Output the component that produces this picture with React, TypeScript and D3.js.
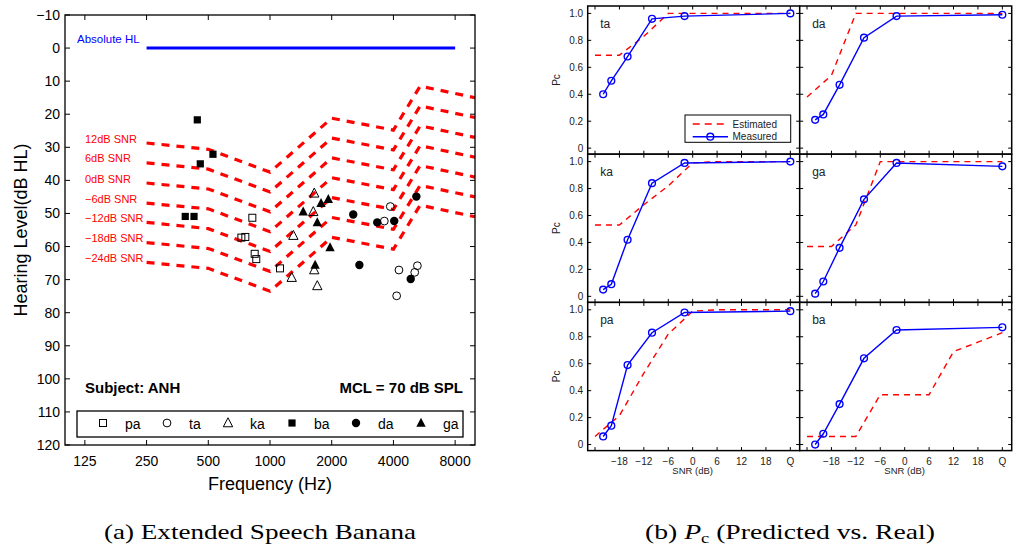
import React from 'react';
import * as d3 from 'd3';

// ---------------- Left chart data ----------------
const freqTicks = [125, 250, 500, 1000, 2000, 4000, 8000];
const hlTicks = [-10, 0, 10, 20, 30, 40, 50, 60, 70, 80, 90, 100, 110, 120];
const absFreq = [250, 8000];
const absHL = [0, 0];

const bananaFreq = [250, 500, 1000, 2000, 4000, 5400, 10000];
const snrLabels = ['12dB SNR', '6dB SNR', '0dB SNR', '\u22126dB SNR', '\u221212dB SNR', '\u221218dB SNR', '\u221224dB SNR'];
const bananaSNR12 = [28.7, 30.6, 37.5, 21.2, 24.8, 11.5, 15.0];
const bananaSNR6 = [34.7, 36.6, 43.5, 27.2, 30.8, 17.5, 21.0];
const bananaSNR0 = [40.8, 42.6, 49.5, 33.2, 36.8, 23.5, 27.0];
const bananaSNRm6 = [46.9, 48.6, 55.5, 39.2, 42.8, 29.5, 33.0];
const bananaSNRm12 = [52.7, 54.6, 61.5, 45.2, 48.8, 35.5, 39.0];
const bananaSNRm18 = [58.8, 60.6, 67.5, 51.2, 54.8, 41.5, 45.0];
const bananaSNRm24 = [64.8, 66.6, 73.5, 57.2, 60.8, 47.5, 51.0];
const bananaCurves = [bananaSNR12, bananaSNR6, bananaSNR0, bananaSNRm6, bananaSNRm12, bananaSNRm18, bananaSNRm24];

const syllables = ['pa', 'ta', 'ka', 'ba', 'da', 'ga'];
const paFreq = [820, 725, 758, 842, 857, 1119];
const paHL = [51.3, 57.3, 57.1, 62.2, 63.8, 66.6];
const taFreq = [3861, 3611, 4256, 4148, 5083, 5236];
const taHL = [47.9, 52.3, 67.1, 74.9, 67.8, 65.8];
const kaFreq = [1644, 1626, 1300, 1276, 1644, 1701];
const kaHL = [43.9, 49.5, 56.7, 69.4, 67.1, 71.9];
const baFreq = [442, 527, 457, 386, 426];
const baHL = [21.7, 32.1, 35.0, 50.9, 50.9];
const daFreq = [2547, 2729, 3335, 4036, 5176, 4857];
const daHL = [50.3, 65.6, 52.7, 52.3, 44.9, 69.8];
const gaFreq = [1452, 1774, 1925, 1701, 1963, 1660];
const gaHL = [49.5, 46.9, 45.7, 52.7, 60.3, 65.6];

// ---------------- Right chart data ----------------
const snrTicks = [-24, -18, -12, -6, 0, 6, 12, 18, 24];
const snrTickLabels = ['', '\u221218', '\u221212', '\u22126', '0', '6', '12', '18', 'Q'];
const pcTicks = [0, 0.2, 0.4, 0.6, 0.8, 1.0];
const pcTickLabels = ['0', '0.2', '0.4', '0.6', '0.8', '1.0'];
const measuredSNR = [-22, -20, -16, -10, -2, 24];
const estimatedSNR = [-24, -18, -12, -6, 0, 6, 12, 18, 24];
const panelNames = ['ta', 'da', 'ka', 'ga', 'pa', 'ba'];
const measTa = [0.40, 0.50, 0.68, 0.96, 0.98, 1.0];
const measDa = [0.21, 0.25, 0.47, 0.82, 0.98, 0.99];
const measKa = [0.05, 0.09, 0.42, 0.84, 0.99, 1.0];
const measGa = [0.02, 0.11, 0.36, 0.72, 0.99, 0.965];
const measPa = [0.06, 0.14, 0.59, 0.83, 0.98, 0.99];
const measBa = [0.0, 0.08, 0.30, 0.64, 0.85, 0.87];
const estTa = [0.69, 0.69, 0.83, 1.0, 1.0, 1.0, 1.0, 1.0, 1.0];
const estDa = [0.38, 0.54, 1.0, 1.0, 1.0, 1.0, 1.0, 1.0, 1.0];
const estKa = [0.53, 0.53, 0.68, 0.82, 0.99, 1.0, 1.0, 1.0, 1.0];
const estGa = [0.37, 0.37, 0.53, 1.0, 1.0, 1.0, 1.0, 1.0, 1.0];
const estPa = [0.06, 0.215, 0.53, 0.82, 0.99, 1.0, 1.0, 1.0, 1.0];
const estBa = [0.06, 0.06, 0.06, 0.37, 0.37, 0.37, 0.69, 0.76, 0.83];
const measuredSeries = [measTa, measDa, measKa, measGa, measPa, measBa];
const estimatedSeries = [estTa, estDa, estKa, estGa, estPa, estBa];

const SANS = 'Liberation Sans, Arial, Helvetica, sans-serif';
const SERIF = 'Liberation Serif, DejaVu Serif, serif';

function triPath(cx: number, cy: number, s: number) {
  return `M${cx},${cy - s * 0.58}L${cx + s * 0.52},${cy + s * 0.42}L${cx - s * 0.52},${cy + s * 0.42}Z`;
}

function Marker({ kind, x, y }: { kind: string; x: number; y: number }) {
  switch (kind) {
    case 'pa':
      return <rect x={x - 3.5} y={y - 3.5} width={7} height={7} fill="none" stroke="#000" strokeWidth={1} />;
    case 'ba':
      return <rect x={x - 3.6} y={y - 3.6} width={7.2} height={7.2} fill="#000" />;
    case 'ta':
      return <circle cx={x} cy={y} r={3.9} fill="none" stroke="#000" strokeWidth={1} />;
    case 'da':
      return <circle cx={x} cy={y} r={4.2} fill="#000" />;
    case 'ka':
      return <path d={triPath(x, y, 9)} fill="none" stroke="#000" strokeWidth={1} />;
    default:
      return <path d={triPath(x, y, 9)} fill="#000" />;
  }
}

function LeftChart() {
  const x = d3.scaleLog().domain([100, 10000]).range([65, 475]);
  const y = d3.scaleLinear().domain([-10, 120]).range([15, 445]);
  const [x0, x1] = x.range();
  const [y0, y1] = y.range();
  const line = d3.line<[number, number]>().x((d) => x(d[0])).y((d) => y(d[1]));
  const pts: Record<string, [number[], number[]]> = {
    pa: [paFreq, paHL], ta: [taFreq, taHL], ka: [kaFreq, kaHL],
    ba: [baFreq, baHL], da: [daFreq, daHL], ga: [gaFreq, gaHL],
  };
  const legendX = [103, 167, 228, 292, 356, 421];
  return (
    <g fontFamily={SANS}>
      {bananaCurves.map((c, i) => (
        <path key={i} d={line(bananaFreq.map((f, j) => [f, c[j]] as [number, number])) || ''}
          fill="none" stroke="#ff0000" strokeWidth={3.2} strokeDasharray="8 7" />
      ))}
      {bananaCurves.map((c, i) => (
        <text key={'l' + i} x={85} y={y(c[0]) - 0.5} fontSize={11} fill="#ff0000">{snrLabels[i]}</text>
      ))}
      <path d={line(absFreq.map((f, j) => [f, absHL[j]] as [number, number])) || ''} stroke="#0000ff" strokeWidth={3} fill="none" />
      <text x={77} y={43} fontSize={11.5} fill="#0000ff">Absolute HL</text>
      {syllables.map((s) => pts[s][0].map((f, j) => (
        <Marker key={s + j} kind={s} x={x(f)} y={y(pts[s][1][j])} />
      )))}
      <rect x={x0} y={y0} width={x1 - x0} height={y1 - y0} fill="none" stroke="#000" strokeWidth={1.3} />
      {freqTicks.map((f) => (
        <g key={f}>
          <line x1={x(f)} x2={x(f)} y1={y1} y2={y1 - 5} stroke="#000" />
          <line x1={x(f)} x2={x(f)} y1={y0} y2={y0 + 5} stroke="#000" />
          <text x={x(f)} y={466} fontSize={14} textAnchor="middle">{f}</text>
        </g>
      ))}
      {hlTicks.map((t) => (
        <g key={t}>
          <line x1={x0} x2={x0 + 5} y1={y(t)} y2={y(t)} stroke="#000" />
          <line x1={x1} x2={x1 - 5} y1={y(t)} y2={y(t)} stroke="#000" />
          <text x={60} y={y(t) + 5} fontSize={14} textAnchor="end">{t < 0 ? '\u2212' + Math.abs(t) : t}</text>
        </g>
      ))}
      <text x={270} y={490} fontSize={18} textAnchor="middle">Frequency (Hz)</text>
      <text transform={`translate(27,230) rotate(-90)`} fontSize={18} textAnchor="middle">Hearing Level(dB HL)</text>
      <text x={85} y={393} fontSize={15} fontWeight="bold">Subject: ANH</text>
      <text x={463} y={393} fontSize={15} fontWeight="bold" textAnchor="end">MCL = 70 dB SPL</text>
      <rect x={77} y={411} width={386} height={26} fill="#fff" stroke="#000" strokeWidth={1.3} />
      {syllables.map((s, i) => (
        <g key={'lg' + s}>
          <Marker kind={s} x={legendX[i]} y={423} />
          <text x={legendX[i] + 22} y={429} fontSize={14}>{s}</text>
        </g>
      ))}
    </g>
  );
}

function PcPanel({ idx }: { idx: number }) {
  const col = idx % 2;
  const row = Math.floor(idx / 2);
  const left = 587.7 + col * 212;
  const top = 6 + row * 148.2;
  const x = d3.scaleLinear().domain([-25.8, 26.3]).range([left, left + 212]);
  const y = d3.scaleLinear().domain([-0.045, 1.055]).range([top + 148.2, top]);
  const lineMeas = d3.line<number>().x((_, i) => x(measuredSNR[i])).y((d) => y(d));
  const lineEst = d3.line<number>().x((_, i) => x(estimatedSNR[i])).y((d) => y(d));
  const meas = measuredSeries[idx];
  const est = estimatedSeries[idx];
  const bottom = top + 148.2;
  const right = left + 212;
  return (
    <g fontFamily={SANS} fill="#222">
      <rect x={left} y={top} width={212} height={148.2} fill="#fff" stroke="none" />
      <path d={lineEst(est) || ''} fill="none" stroke="#ff0000" strokeWidth={1.4} strokeDasharray="6 5" />
      <path d={lineMeas(meas) || ''} fill="none" stroke="#0000ff" strokeWidth={1.4} />
      {meas.map((v, i) => (
        <circle key={i} cx={x(measuredSNR[i])} cy={y(v)} r={3.4} fill="none" stroke="#0000ff" strokeWidth={1.4} />
      ))}
      <text x={left + 12.5} y={top + 21.5} fontSize={12}>{panelNames[idx]}</text>
      {snrTicks.map((t) => (
        <g key={'x' + t}>
          <line x1={x(t)} x2={x(t)} y1={top} y2={top + 3.5} stroke="#000" />
          <line x1={x(t)} x2={x(t)} y1={bottom} y2={bottom - 3.5} stroke="#000" />
        </g>
      ))}
      {pcTicks.map((t) => (
        <g key={'y' + t}>
          <line x1={left} x2={left + 3.5} y1={y(t)} y2={y(t)} stroke="#000" />
          <line x1={right} x2={right - 3.5} y1={y(t)} y2={y(t)} stroke="#000" />
        </g>
      ))}
      {col === 0 && pcTicks.map((t, i) => (
        <text key={'yl' + t} x={left - 4.5} y={y(t) + 3.6} fontSize={10} textAnchor="end">{pcTickLabels[i]}</text>
      ))}
      {col === 0 && (
        <text transform={`translate(${left - 28},${top + 74}) rotate(-90)`} fontSize={10} textAnchor="middle">Pc</text>
      )}
      {row === 2 && snrTicks.map((t, i) => (
        <text key={'xl' + t} x={x(t)} y={bottom + 14} fontSize={10} textAnchor="middle">{snrTickLabels[i]}</text>
      ))}
      {row === 2 && (
        <text x={x(0)} y={bottom + 23.5} fontSize={9.5} textAnchor="middle">SNR (dB)</text>
      )}
      <rect x={left} y={top} width={212} height={148.2} fill="none" stroke="#000" strokeWidth={1.5} />
      {idx === 0 && (
        <g>
          <rect x={685} y={115} width={105.7} height={27.3} fill="#fff" stroke="#000" strokeWidth={1} />
          <line x1={692.7} x2={728} y1={124} y2={124} stroke="#ff0000" strokeWidth={1.4} strokeDasharray="7 5" />
          <text x={732.5} y={127.5} fontSize={10}>Estimated</text>
          <line x1={692.7} x2={728} y1={136.7} y2={136.7} stroke="#0000ff" strokeWidth={1.4} />
          <circle cx={710.3} cy={136.7} r={3.4} fill="none" stroke="#0000ff" strokeWidth={1.4} />
          <text x={732.5} y={140.2} fontSize={10}>Measured</text>
        </g>
      )}
    </g>
  );
}

export default function App() {
  return (
    <svg width={1013} height={548} style={{ position: 'absolute', left: 0, top: 0, background: '#fff' }}>
      <rect width={1013} height={548} fill="#fff" />
      <LeftChart />
      {panelNames.map((_, i) => <PcPanel key={i} idx={i} />)}
      <text x={260} y={539} fontFamily={SERIF} fontSize={21} textAnchor="middle" textLength={312} lengthAdjust="spacingAndGlyphs">(a) Extended Speech Banana</text>
      <text x={790} y={539} fontFamily={SERIF} fontSize={21} textAnchor="middle" textLength={290} lengthAdjust="spacingAndGlyphs">
        (b) <tspan fontStyle="italic">P</tspan><tspan fontSize={14} dy={4}>c</tspan><tspan dy={-4}> (Predicted vs. Real)</tspan>
      </text>
    </svg>
  );
}
